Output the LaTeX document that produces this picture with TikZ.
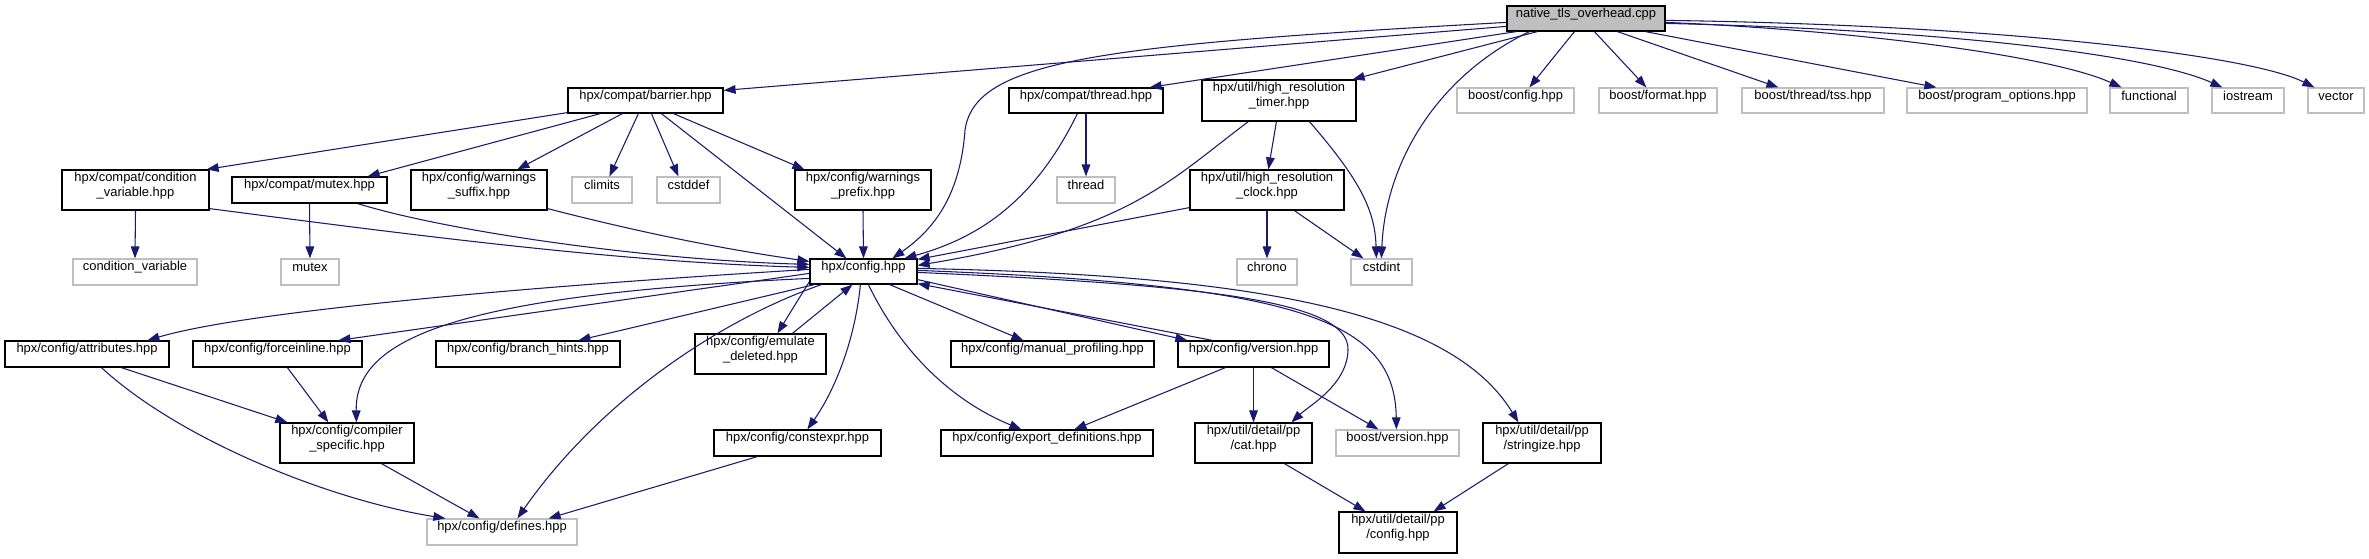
\documentclass[tikz,border=0pt]{standalone}
\usepackage{fontspec}
\setmainfont{Liberation Sans}
\usetikzlibrary{arrows.meta,calc,fit}
\definecolor{edgeblue}{HTML}{191970}
\definecolor{grayline}{HTML}{BFBFBF}
\begin{document}
\begin{tikzpicture}[x=0.75pt,y=-0.75pt,
  box/.style={draw=black,fill=white,line width=0.9pt,inner sep=0pt,align=center,
    font=\fontsize{9.7}{11.25}\selectfont},
  gbox/.style={box,draw=grayline},
  rootbox/.style={box,fill=grayline},
  edge/.style={draw=edgeblue,line width=0.8pt,-{Triangle[length=9pt,width=6.5pt]}}]
\useasboundingbox (0,0) rectangle (2369,559);
% nodes
\node[rootbox,fit={(1507,6) (1665,31)}] (native) {native\_tls\_overhead.cpp};
\node[box,fit={(568,88) (723,113)}] (barrier) {hpx/compat/barrier.hpp};
\node[box,fit={(1009,88) (1163,113)}] (cthread) {hpx/compat/thread.hpp};
\node[box,fit={(1202,80) (1356,121)}] (timer) {hpx/util/high\_resolution\\\_timer.hpp};
\node[gbox,fit={(1457,88) (1574,113)}] (bconfig) {boost/config.hpp};
\node[gbox,fit={(1599,88) (1717,113)}] (bformat) {boost/format.hpp};
\node[gbox,fit={(1742,88) (1884,113)}] (tss) {boost/thread/tss.hpp};
\node[gbox,fit={(1907,88) (2087,113)}] (po) {boost/program\_options.hpp};
\node[gbox,fit={(2110,88) (2188,113)}] (functional) {functional};
\node[gbox,fit={(2212,88) (2284,113)}] (iostream) {iostream};
\node[gbox,fit={(2308,88) (2364,113)}] (vector) {vector};
\node[box,fit={(62,170) (209,210)}] (condvarhpp) {hpx/compat/condition\\\_variable.hpp};
\node[box,fit={(232,177) (387,203)}] (cmutex) {hpx/compat/mutex.hpp};
\node[box,fit={(411,170) (547,210)}] (wsuffix) {hpx/config/warnings\\\_suffix.hpp};
\node[gbox,fit={(572,177) (632,203)}] (climits) {climits};
\node[gbox,fit={(657,177) (720,203)}] (cstddef) {cstddef};
\node[box,fit={(795,170) (931,210)}] (wprefix) {hpx/config/warnings\\\_prefix.hpp};
\node[gbox,fit={(1057,177) (1115,203)}] (thread) {thread};
\node[box,fit={(1190,170) (1344,210)}] (clock) {hpx/util/high\_resolution\\\_clock.hpp};
\node[gbox,fit={(73,259) (197,285)}] (condvar) {condition\_variable};
\node[gbox,fit={(281,259) (339,285)}] (mutex) {mutex};
\node[box,fit={(810,259) (917,284)}] (config) {hpx/config.hpp};
\node[gbox,fit={(1237,259) (1297,285)}] (chrono) {chrono};
\node[gbox,fit={(1351,259) (1412,285)}] (cstdint) {cstdint};
\node[box,fit={(5,341) (169,367)}] (attributes) {hpx/config/attributes.hpp};
\node[box,fit={(193,341) (362,367)}] (forceinline) {hpx/config/forceinline.hpp};
\node[box,fit={(436,341) (620,367)}] (branch) {hpx/config/branch\_hints.hpp};
\node[box,fit={(695,334) (826,374)}] (emulate) {hpx/config/emulate\\\_deleted.hpp};
\node[box,fit={(951,341) (1154,367)}] (manual) {hpx/config/manual\_profiling.hpp};
\node[box,fit={(1178,341) (1329,367)}] (version) {hpx/config/version.hpp};
\node[box,fit={(280,423) (414,463)}] (compiler) {hpx/config/compiler\\\_specific.hpp};
\node[box,fit={(714,430) (881,456)}] (constexpr) {hpx/config/constexpr.hpp};
\node[box,fit={(941,430) (1153,456)}] (export) {hpx/config/export\_definitions.hpp};
\node[box,fit={(1195,423) (1312,463)}] (cat) {hpx/util/detail/pp\\/cat.hpp};
\node[gbox,fit={(1336,430) (1459,456)}] (bversion) {boost/version.hpp};
\node[box,fit={(1483,423) (1601,463)}] (stringize) {hpx/util/detail/pp\\/stringize.hpp};
\node[gbox,fit={(427,519) (577,545)}] (defines) {hpx/config/defines.hpp};
\node[box,fit={(1339,512) (1457,553)}] (ppconfig) {hpx/util/detail/pp\\/config.hpp};
% edges from native
\draw[edge] ($(native.north west)+(0,21)$) -- ($(barrier.north east)+(0,3)$);
\draw[edge] ($(native.north west)+(0,17)$) .. controls (1100,45) and (975,60) .. (965,130) .. controls (960,200) and (930,232) .. ($(config.north west)+(83,0)$);
\draw[edge] ($(native.south west)+(10,0)$) -- ($(cthread.north east)+(-14,0)$);
\draw[edge] ($(native.south west)+(31,0)$) -- ($(timer.north east)+(-4,0)$);
\draw[edge] ($(native.south west)+(23,0)$) .. controls (1430,80) and (1385,170) .. ($(cstdint.north west)+(31,0)$);
\draw[edge] ($(native.south west)+(68,0)$) -- ($(bconfig.north west)+(73,0)$);
\draw[edge] ($(native.south west)+(88,0)$) -- ($(bformat.north west)+(48,0)$);
\draw[edge] ($(native.south west)+(111,0)$) -- ($(tss.north west)+(37,0)$);
\draw[edge] ($(native.south west)+(139,0)$) -- ($(po.north west)+(30,0)$);
\draw[edge] ($(native.north east)+(0,17)$) .. controls (1850,30) and (2050,55) .. ($(functional.north west)+(12,0)$);
\draw[edge] ($(native.north east)+(0,18)$) .. controls (1950,30) and (2150,55) .. ($(iostream.north west)+(11,0)$);
\draw[edge] ($(native.north east)+(0,15)$) .. controls (2000,25) and (2250,55) .. ($(vector.north west)+(7,0)$);
% edges from barrier
\draw[edge] ($(barrier.south west)+(0,-1)$) -- ($(condvarhpp.north east)+(-3,0)$);
\draw[edge] ($(barrier.south west)+(33,0)$) -- ($(cmutex.north east)+(-20,0)$);
\draw[edge] ($(barrier.south west)+(55,0)$) -- ($(wsuffix.north west)+(107,0)$);
\draw[edge] ($(barrier.south west)+(71,0)$) -- ($(climits.north west)+(38,0)$);
\draw[edge] ($(barrier.south west)+(84,0)$) -- ($(cstddef.north west)+(22,0)$);
\draw[edge] ($(barrier.south west)+(94,0)$) -- ($(config.north west)+(37,0)$);
\draw[edge] ($(barrier.south west)+(106,0)$) -- ($(wprefix.north west)+(10,0)$);
% second row
\draw[edge] (condvarhpp.south) -- (condvar.north);
\draw[edge] ($(condvarhpp.south east)+(0,-2)$) .. controls (420,236) and (620,262) .. ($(config.north west)+(0,9)$);
\draw[edge] (cmutex.south) -- (mutex.north);
\draw[edge] ($(cmutex.south east)+(-30,0)$) .. controls (450,232) and (650,260) .. ($(config.north west)+(0,6)$);
\draw[edge] ($(wsuffix.south east)+(0,-2)$) .. controls (650,235) and (730,250) .. ($(config.north west)+(0,3)$);
\draw[edge] (wprefix.south) -- (config.north);
\draw[edge] (cthread.south) -- (thread.north);
\draw[edge] ($(cthread.south west)+(69,0)$) .. controls (1040,190) and (990,235) .. ($(config.north west)+(95,0)$);
\draw[edge] ($(timer.south west)+(47,0)$) .. controls (1170,180) and (1130,230) .. ($(config.north east)+(0,7)$);
\draw[edge] ($(timer.south west)+(75,0)$) -- ($(clock.north west)+(79,0)$);
\draw[edge] ($(timer.south west)+(108,0)$) .. controls (1360,180) and (1375,210) .. ($(cstdint.north west)+(26,0)$);
\draw[edge] ($(clock.south west)+(0,-3)$) -- ($(config.north east)+(0,1)$);
\draw[edge] (clock.south) -- (chrono.north);
\draw[edge] ($(clock.south west)+(105,0)$) -- ($(cstdint.north west)+(13,0)$);
% from config
\draw[edge] ($(config.north west)+(0,11)$) .. controls (550,285) and (250,310) .. ($(attributes.north west)+(143,0)$);
\draw[edge] ($(config.north west)+(0,15)$) -- ($(forceinline.north west)+(146,0)$);
\draw[edge] ($(config.south west)+(5,0)$) -- ($(branch.north west)+(143,0)$);
\draw[edge] ($(config.north west)+(0,20)$) .. controls (450,295) and (355,340) .. ($(compiler.north west)+(77,0)$);
\draw[edge] ($(config.south west)+(12,0)$) .. controls (720,320) and (600,400) .. ($(defines.north west)+(91,0)$);
\draw[edge] ($(config.south west)+(0,-3)$) -- ($(emulate.north west)+(83,0)$);
\draw[edge] ($(emulate.north west)+(98,0)$) -- ($(config.south west)+(43,0)$);
\draw[edge] ($(config.south west)+(51,0)$) .. controls (855,340) and (835,390) .. ($(constexpr.north west)+(94,0)$);
\draw[edge] ($(config.south west)+(59,0)$) .. controls (900,350) and (950,400) .. ($(export.north west)+(81,0)$);
\draw[edge] ($(config.south east)+(-28,0)$) -- ($(manual.north west)+(73,0)$);
\draw[edge] ($(config.south east)+(0,-5)$) -- ($(version.north west)+(10,0)$);
\draw[edge] ($(version.north west)+(35,0)$) -- ($(config.south east)+(0,-1)$);
\draw[edge] ($(config.north east)+(0,14)$) .. controls (1200,285) and (1350,300) .. (1348,350) .. controls (1347,385) and (1310,405) .. ($(cat.north west)+(97,0)$);
\draw[edge] ($(config.north east)+(0,12)$) .. controls (1300,285) and (1395,320) .. ($(bversion.north west)+(61,0)$);
\draw[edge] ($(config.north east)+(0,10)$) .. controls (1250,275) and (1450,310) .. ($(stringize.north west)+(36,0)$);
% lower
\draw[edge] ($(version.south west)+(48,0)$) -- ($(export.north west)+(134,0)$);
\draw[edge] (version.south) -- (cat.north);
\draw[edge] ($(version.south west)+(94,0)$) -- ($(bversion.north west)+(43,0)$);
\draw[edge] ($(cat.south west)+(90,0)$) -- ($(ppconfig.north west)+(27,0)$);
\draw[edge] ($(stringize.south west)+(26,0)$) -- ($(ppconfig.north east)+(-24,0)$);
\draw[edge] ($(attributes.south west)+(117,0)$) -- ($(compiler.north west)+(8,0)$);
\draw[edge] ($(attributes.south west)+(97,0)$) .. controls (180,440) and (330,500) .. ($(defines.north west)+(19,0)$);
\draw[edge] ($(forceinline.south west)+(95,0)$) -- ($(compiler.north west)+(49,0)$);
\draw[edge] ($(compiler.south west)+(102,0)$) -- ($(defines.north west)+(53,0)$);
\draw[edge] ($(constexpr.south west)+(44,0)$) -- ($(defines.north east)+(-29,0)$);
\end{tikzpicture}
\end{document}
